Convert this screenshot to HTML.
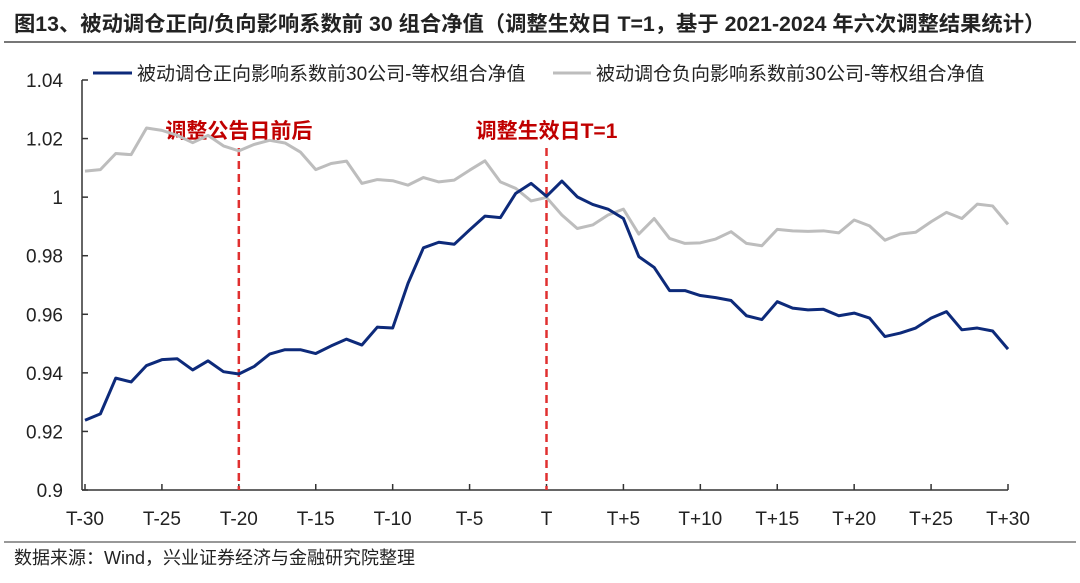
<!DOCTYPE html>
<html><head><meta charset="utf-8"><style>
body{margin:0;width:1080px;height:578px;background:#fff;font-family:"Liberation Sans","Noto Sans CJK SC",sans-serif;overflow:hidden}
svg text{font-family:"Liberation Sans","Noto Sans CJK SC",sans-serif}
</style></head><body>
<svg id="c" width="1080" height="578">
<text x="14" y="31" font-size="21.3" font-weight="bold" fill="#222">图13、被动调仓正向/负向影响系数前 30 组合净值（调整生效日 T=1，基于 2021-2024 年六次调整结果统计）</text>
<line x1="4" y1="42" x2="1076" y2="42" stroke="#777" stroke-width="2"/>
<line x1="4" y1="542" x2="1076" y2="542" stroke="#777" stroke-width="1.5"/>
<text x="14" y="564" font-size="18" fill="#222">数据来源：Wind，兴业证券经济与金融研究院整理</text>
<g>
<line x1="93" y1="73" x2="132" y2="73" stroke="#0d2a7a" stroke-width="3"/>
<text x="137" y="80" font-size="19" fill="#222">被动调仓正向影响系数前30公司-等权组合净值</text>
<line x1="553" y1="73" x2="591" y2="73" stroke="#bdbdbd" stroke-width="3"/>
<text x="596" y="80" font-size="19" fill="#222">被动调仓负向影响系数前30公司-等权组合净值</text>
</g>
<g id="axes"></g>
<g id="marks"></g>
</svg>
<script>
const yTicks=[0.9,0.92,0.94,0.96,0.98,1,1.02,1.04];
const yTickLabels=["0.9","0.92","0.94","0.96","0.98","1","1.02","1.04"];
const xTickLabels=["T-30","T-25","T-20","T-15","T-10","T-5","T","T+5","T+10","T+15","T+20","T+25","T+30"];
const positive=[0.9238,0.926,0.9382,0.9369,0.9425,0.9445,0.9448,0.941,0.9441,0.9404,0.9396,0.9422,0.9464,0.9479,0.9479,0.9466,0.9492,0.9515,0.9495,0.9556,0.9553,0.9706,0.9827,0.9846,0.9839,0.9888,0.9935,0.993,1.0013,1.0047,1.0003,1.0055,1.0001,0.9975,0.9959,0.9927,0.9797,0.976,0.9681,0.9681,0.9664,0.9657,0.9647,0.9595,0.9582,0.9643,0.9621,0.9615,0.9617,0.9595,0.9604,0.9587,0.9524,0.9536,0.9553,0.9587,0.9609,0.9547,0.9553,0.9543,0.9481];
const negative=[1.0089,1.0094,1.0149,1.0145,1.0236,1.0228,1.0211,1.0186,1.0211,1.0175,1.0158,1.018,1.0194,1.0185,1.0154,1.0094,1.0115,1.0123,1.0047,1.006,1.0056,1.0041,1.0067,1.0052,1.0058,1.0092,1.0124,1.0052,1.003,0.9987,0.9999,0.9939,0.9893,0.9905,0.9939,0.9959,0.9874,0.9927,0.9859,0.9842,0.9844,0.9857,0.9882,0.9842,0.9834,0.989,0.9885,0.9883,0.9885,0.9878,0.9922,0.9902,0.9853,0.9874,0.988,0.9916,0.9948,0.9927,0.9976,0.997,0.9907];
const markers=[{i:10,label:"调整公告日前后"},{i:30,label:"调整生效日T=1"}];
const NS="http://www.w3.org/2000/svg";
const X0=85,X1=1008,Y0=490,Y1=80,VMIN=0.9,VMAX=1.04;
const xs=i=>X0+(X1-X0)*i/(positive.length-1);
const ys=v=>Y0-(v-VMIN)/(VMAX-VMIN)*(Y0-Y1);
function mk(tag,attrs,parent){const e=document.createElementNS(NS,tag);for(const k in attrs)e.setAttribute(k,attrs[k]);parent.appendChild(e);return e;}
const ax=document.getElementById('axes'),mg=document.getElementById('marks');
let e=mk('line',{x1:82,y1:Y1,x2:82,y2:Y0,stroke:'#333','stroke-width':1.5},ax);


e=mk('line',{x1:82,y1:Y0,x2:X1,y2:Y0,stroke:'#333','stroke-width':1.5},ax);


yTicks.forEach((v,k)=>{
 const t=mk('line',{x1:82,y1:ys(v),x2:88,y2:ys(v),stroke:'#333','stroke-width':1.5},ax);
 
 
 const l=mk('text',{x:63,y:ys(v)+7,'font-size':19,fill:'#222','text-anchor':'end'},ax);
 l.textContent=yTickLabels[k];
 
 
});
xTickLabels.forEach((s,k)=>{
 const x=xs(k*5);
 const t=mk('line',{x1:x,y1:Y0,x2:x,y2:Y0-6,stroke:'#333','stroke-width':1.5},ax);
 
 
 const l=mk('text',{x:x,y:525,'font-size':19,fill:'#222','text-anchor':'middle'},ax);
 l.textContent=s;
 
 
});
markers.forEach(m=>{
 const x=xs(m.i);
 const d=mk('line',{x1:x,y1:148,x2:x,y2:Y0,stroke:'#e03030','stroke-width':2.5,'stroke-dasharray':'8,5'},mg);
 
 
 const l=mk('text',{x:x,y:138,'font-size':21,'font-weight':'bold',fill:'#c00000','text-anchor':'middle'},mg);
 l.textContent=m.label;
 
 
});
function line(arr,color,name){
 const p=mk('polyline',{points:arr.map((v,i)=>xs(i)+','+ys(v)).join(' '),fill:'none',stroke:color,'stroke-width':3,'stroke-linejoin':'round'},mg);
 
 
}
line(negative,'#bdbdbd','negative-series-line');
line(positive,'#0d2a7a','positive-series-line');
</script>
</body></html>
